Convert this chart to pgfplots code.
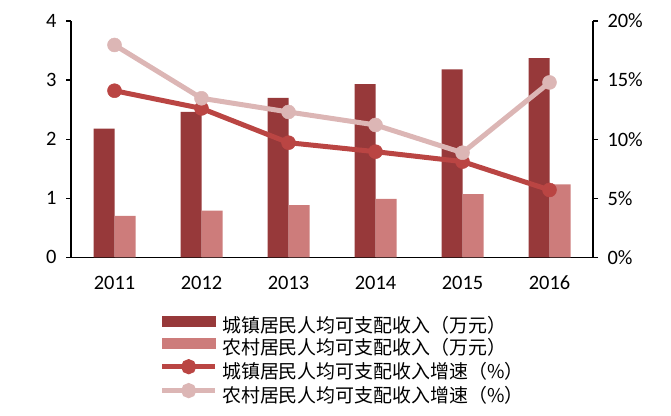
\documentclass[border=0pt]{standalone}
\usepackage{fontspec}
\setmainfont{Carlito}
\newfontfamily\cjk{Noto Sans CJK SC}
\usepackage{pgfplots}
\pgfplotsset{compat=1.18}
\definecolor{dbar}{HTML}{97393A}
\definecolor{lbar}{HTML}{CD7C7B}
\definecolor{uline}{HTML}{BA4543}
\definecolor{rline}{HTML}{DCB6B5}
\begin{document}
\begin{tikzpicture}
\pgfplotsset{
  common/.style={
    scale only axis, width=522bp, height=236.3bp,
    xmin=-0.5, xmax=5.5, ymin=0,
    tick align=outside, major tick length=5bp,
    tick style={black, line width=1.3bp},
    axis line style={black, line width=1.3bp, -},
    ticklabel style={font=\fontsize{20.5}{24}\selectfont},
    /pgf/number format/assume math mode=true,
  }
}
\begin{axis}[common, name=main,
  ymax=4, ytick={0,1,2,3,4},
  axis x line*=bottom, axis y line*=left,
  xtick={0,1,2,3,4,5}, xticklabels={2011,2012,2013,2014,2015,2016},
  xtick style={draw=none},
  yticklabel style={xshift=-6bp},
  xticklabel style={yshift=-10bp},
]
\addplot[ybar, bar width=21bp, bar shift=-10.5bp, fill=dbar, draw=none]
  coordinates {(0,2.18) (1,2.46) (2,2.70) (3,2.93) (4,3.18) (5,3.37)};
\addplot[ybar, bar width=21bp, bar shift=10.5bp, fill=lbar, draw=none]
  coordinates {(0,0.70) (1,0.79) (2,0.885) (3,0.99) (4,1.07) (5,1.235)};
\end{axis}
\begin{axis}[common,
  ymax=20, ytick={0,5,10,15,20},
  axis y line*=right, axis x line=none,
  yticklabel={\pgfmathprintnumber{\tick}\%},
  yticklabel style={xshift=6bp},
  legend style={at={(axis description cs:0.1695,-0.2476)}, anchor=north west,
    draw=none, fill=none, inner sep=0pt, row sep=0.9bp, column sep=4.5bp,
    font=\cjk\fontsize{19}{19}\selectfont,
    nodes={inner sep=0pt, text height=14bp, text depth=4bp}},
  legend cell align=left,
]
\addlegendimage{legend image code/.code={\fill[dbar] (0bp,1.5bp) rectangle (53bp,11.5bp);}}
\addlegendentry{城镇居民人均可支配收入（万元）}
\addlegendimage{legend image code/.code={\fill[lbar] (0bp,1.5bp) rectangle (53bp,11.5bp);}}
\addlegendentry{农村居民人均可支配收入（万元）}
\addplot[uline, line width=5bp, mark=*, mark size=7bp,
  mark options={solid, fill=uline, draw=uline, line width=0.5bp},
  legend image code/.code={\draw[uline,line width=5bp] (0bp,6.5bp) -- (53bp,6.5bp); \fill[uline] (26.5bp,6.5bp) circle (5bp);}]
  coordinates {(0,14.1) (1,12.6) (2,9.7) (3,8.94) (4,8.1) (5,5.7)};
\addlegendentry{城镇居民人均可支配收入增速（\%）}
\addplot[rline, line width=5bp, mark=*, mark size=7bp,
  mark options={solid, fill=rline, draw=rline, line width=0.5bp},
  legend image code/.code={\draw[rline,line width=5bp] (0bp,6.5bp) -- (53bp,6.5bp); \fill[rline] (26.5bp,6.5bp) circle (5bp);}]
  coordinates {(0,17.97) (1,13.46) (2,12.3) (3,11.2) (4,8.85) (5,14.8)};
\addlegendentry{农村居民人均可支配收入增速（\%）}
\end{axis}
\pgfresetboundingbox
\path[use as bounding box] ([shift={(-71bp,-158.7bp)}]main.south west) rectangle ([shift={(78bp,21bp)}]main.north east);
\end{tikzpicture}
\end{document}
